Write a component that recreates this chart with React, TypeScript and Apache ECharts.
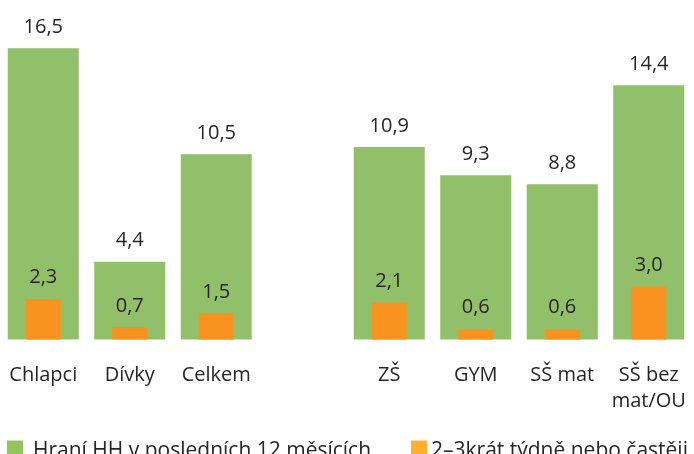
import React, { useEffect, useRef } from "react";
import * as echarts from "echarts";

const categories = ["Chlapci", "Dívky", "Celkem", "", "ZŠ", "GYM", "SŠ mat", "SŠ bez\nmat/OU"];
const playedLast12 = [16.5, 4.4, 10.5, null, 10.9, 9.3, 8.8, 14.4];
const weeklyOrMore = [2.3, 0.7, 1.5, null, 2.1, 0.6, 0.6, 3.0];
const seriesNames = ["Hraní HH v posledních 12 měsících", "2–3krát týdně nebo častěji"];

const FONT = "'Open Sans', sans-serif";
const TEXT = "#262626";
const FS = 20;
const fmt = (p: any) => (p.value == null ? "" : Number(p.value).toFixed(1).replace(".", ","));

export default function App() {
  const ref = useRef<HTMLDivElement>(null);
  useEffect(() => {
    if (!ref.current) return;
    const chart = echarts.init(ref.current, undefined, { renderer: "svg" });
    chart.setOption({
      animation: false,
      textStyle: { fontFamily: FONT, color: TEXT },
      grid: { left: 0, right: 2, top: 21.8, bottom: 114.5, containLabel: false },
      xAxis: [
        {
          type: "category",
          data: categories,
          axisLine: { show: false },
          axisTick: { show: false },
          axisLabel: { color: TEXT, fontSize: FS, fontFamily: FONT, margin: 21, lineHeight: 26, interval: 0 },
        },
        {
          type: "category",
          data: categories,
          show: false,
        },
      ],
      yAxis: { type: "value", min: 0, max: 18, show: false, splitLine: { show: false } },
      legend: [
        {
          data: [{ name: seriesNames[0], itemStyle: { color: "#95C45E" } }],
          left: 7,
          top: 438,
          padding: 0,
          itemWidth: 16,
          itemHeight: 16,
          icon: "rect",
          textStyle: { fontSize: 21, color: TEXT, fontFamily: FONT, padding: [0, 0, 0, 5] },
        },
        {
          data: [{ name: seriesNames[1], itemStyle: { color: "#FBB12B" } }],
          left: 411,
          top: 438,
          padding: 0,
          itemWidth: 16,
          itemHeight: 16,
          icon: "rect",
          textStyle: { fontSize: 21, color: TEXT, fontFamily: FONT, padding: [0, 0, 0, -1] },
        },
      ],
      series: [
        {
          name: seriesNames[0],
          type: "bar",
          xAxisIndex: 0,
          data: playedLast12,
          barWidth: 71,
          itemStyle: { color: "#92BF6A" },
          label: { show: true, position: "top", distance: 13, formatter: fmt, fontSize: FS, color: TEXT, fontFamily: FONT },
        },
        {
          name: seriesNames[1],
          type: "bar",
          xAxisIndex: 1,
          data: weeklyOrMore,
          barWidth: 35,
          itemStyle: { color: "#F7931E" },
          label: { show: true, position: "top", distance: 13, formatter: fmt, fontSize: FS, color: TEXT, fontFamily: FONT },
        },
      ],
    });
    return () => chart.dispose();
  }, []);
  return <div ref={ref} style={{ position: "fixed", left: 0, top: 0, width: 694, height: 454 }} />;
}
